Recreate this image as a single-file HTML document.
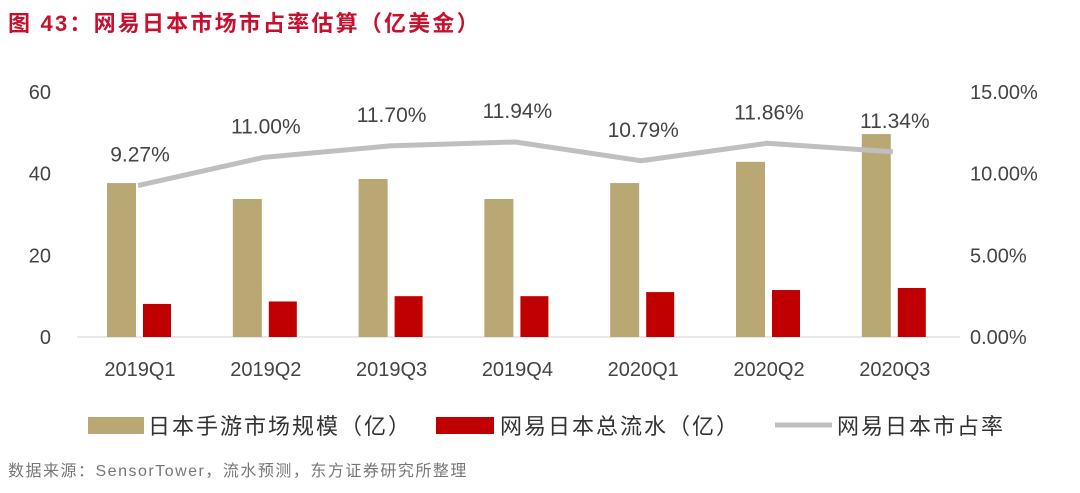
<!DOCTYPE html>
<html><head><meta charset="utf-8"><style>
body{margin:0;background:#fff;width:1080px;height:488px;overflow:hidden;font-family:"Liberation Sans","Noto Sans CJK SC",sans-serif}
</style></head><body>
<svg id="c" width="1080" height="488" xmlns="http://www.w3.org/2000/svg">
<text x="8" y="31" font-size="22" font-weight="bold" fill="#c8102e" letter-spacing="2.2">图 43：网易日本市场市占率估算（亿美金）</text>
<g id="g"></g>
<text x="8" y="476" font-size="16" fill="#777" letter-spacing="1.5">数据来源：SensorTower，流水预测，东方证券研究所整理</text>
</svg>
<script>
const categories=["2019Q1","2019Q2","2019Q3","2019Q4","2020Q1","2020Q2","2020Q3"];
const marketSize=[37.7,33.8,38.7,33.8,37.7,42.9,49.7];
const neteaseRevenue=[8.1,8.7,10,10,11,11.5,12];
const share=[9.27,11.00,11.70,11.94,10.79,11.86,11.34];
const leftTicks=[0,20,40,60];
const rightTicks=[0,5,10,15];
const g=document.getElementById('g');const NS="http://www.w3.org/2000/svg";
function mk(t,a,p){const e=document.createElementNS(NS,t);for(const k in a)e.setAttribute(k,a[k]);(p||g).appendChild(e);return e;}
const y0=337,y1=92;
const yL=v=>y0-(v/60)*(y0-y1);
const yR=v=>y0-(v/15)*(y0-y1);
const xC=i=>140+i*125.8;
leftTicks.forEach(t=>{const e=mk('text',{x:51,y:yL(t)+7,'font-size':20,fill:'#444','text-anchor':'end'});e.textContent=t;

});
rightTicks.forEach(t=>{const e=mk('text',{x:970,y:yR(t)+7,'font-size':20,fill:'#444'});e.textContent=t.toFixed(2)+'%';

});
const ax=mk('line',{x1:77,x2:960,y1:y0,y2:y0,stroke:'#d0d0d0','stroke-width':1});


categories.forEach((c,i)=>{
const x=xC(i);
const b=mk('rect',{x:x-33,y:yL(marketSize[i]),width:29,height:y0-yL(marketSize[i]),fill:'#b9a874'});


const r=mk('rect',{x:x+3,y:yL(neteaseRevenue[i]),width:28,height:y0-yL(neteaseRevenue[i]),fill:'#c00000'});


const t=mk('text',{x:x,y:376,'font-size':20,fill:'#444','text-anchor':'middle'});t.textContent=c;


const l=mk('text',{x:x,y:yR(share[i])-24,'font-size':21,fill:'#444','text-anchor':'middle'});l.textContent=share[i].toFixed(2)+'%';


});
const line=mk('polyline',{points:share.map((v,i)=>(xC(i)-2)+','+yR(v)).join(' '),fill:'none',stroke:'#bfbfbf','stroke-width':5,'stroke-linejoin':'round'});


// legend
const lg=mk('g',{});
mk('rect',{x:88,y:417,width:56,height:17,fill:'#b9a874'},lg);
let e=mk('text',{x:148,y:434,'font-size':22,fill:'#333','letter-spacing':2},lg);e.textContent='日本手游市场规模（亿）';
mk('rect',{x:436,y:417,width:58,height:17,fill:'#c00000'},lg);
e=mk('text',{x:500,y:434,'font-size':22,fill:'#333','letter-spacing':2},lg);e.textContent='网易日本总流水（亿）';
mk('line',{x1:775,x2:832,y1:425,y2:425,stroke:'#bfbfbf','stroke-width':5},lg);
e=mk('text',{x:837,y:434,'font-size':22,fill:'#333','letter-spacing':2},lg);e.textContent='网易日本市占率';
</script>
</body></html>
